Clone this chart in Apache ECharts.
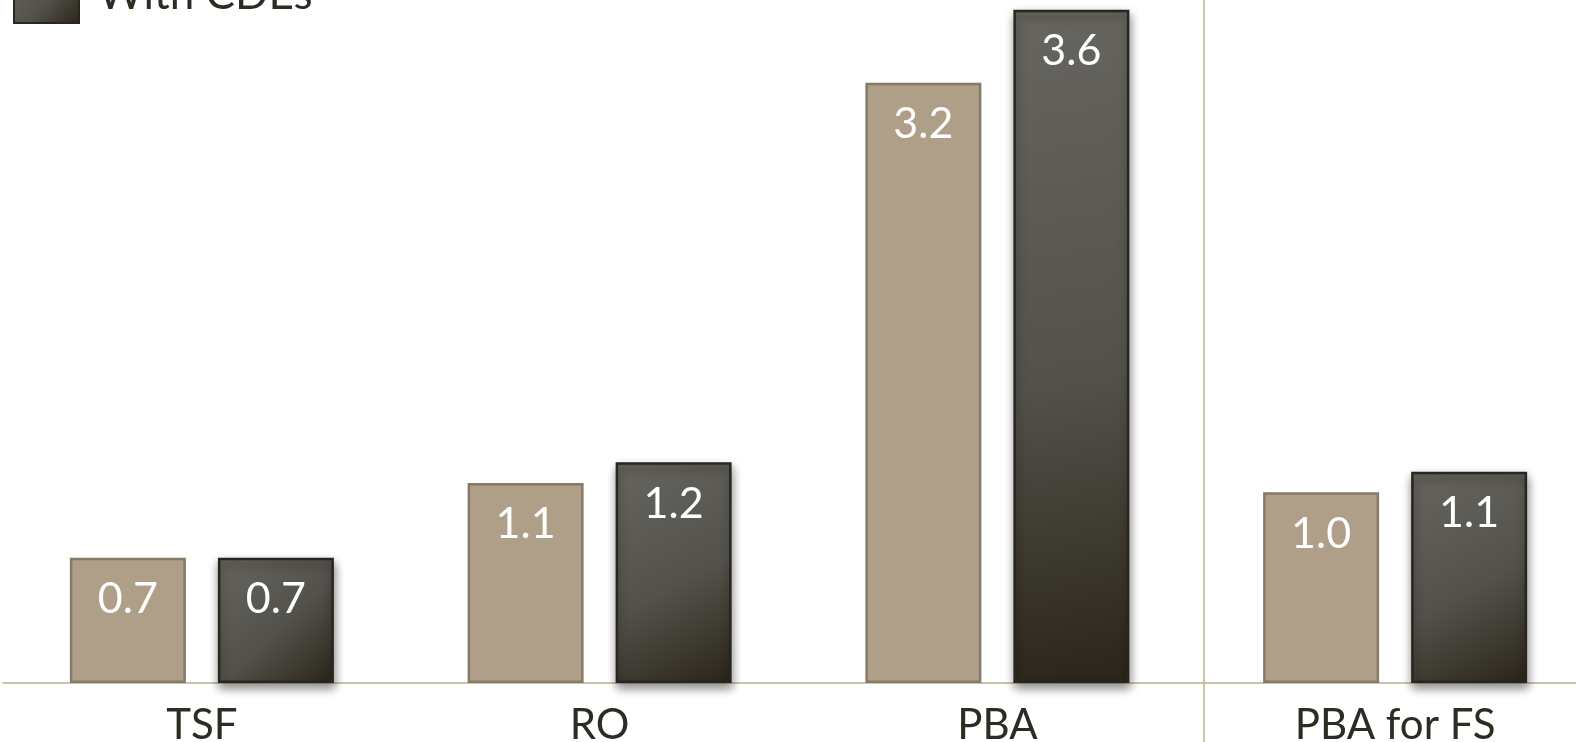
<!DOCTYPE html>
<html><head><meta charset="utf-8">
<script src="https://cdn.jsdelivr.net/npm/echarts@6/dist/echarts.min.js"></script>
<style>html,body{margin:0;padding:0;background:#fff}#c{width:1576px;height:742px}</style>
</head><body><div id="c"></div>
<script>
const categories = ['TSF', 'RO', 'PBA', 'PBA for FS'];
const withoutCDEs = [0.67, 1.07, 3.21, 1.02];
const withCDEs = [0.67, 1.18, 3.6, 1.13];
const seriesNames = ['Without CDEs', 'With CDEs'];

const chart = echarts.init(document.getElementById('c'));
const FONT = 'Lato, "Open Sans", sans-serif';
const darkGrad = new echarts.graphic.LinearGradient(0, 0, 1, 1, [
  {offset: 0, color: '#67655f'},
  {offset: 0.55, color: '#53514b'},
  {offset: 1, color: '#2a2519'}
]);
const labelCfg = {
  show: true, position: 'insideTop', distance: 20, color: '#ffffff',
  fontFamily: FONT, fontSize: 43,
  formatter: p => p.value.toFixed(1)
};
chart.setOption({
  animation: false,
  legend: {
    orient: 'vertical', left: 8, top: -111,
    itemWidth: 65, itemHeight: 56, itemGap: 14, icon: 'rect',
    textStyle: {fontFamily: FONT, fontSize: 44, color: '#2e2b22', padding: [0, 0, 0, 14]},
    data: seriesNames
  },
  grid: {left: 3, width: 1591, top: 0, height: 683, outerBoundsMode: 'none', containLabel: false},
  xAxis: {
    type: 'category', data: categories,
    axisLine: {lineStyle: {color: '#b8b290', width: 1.5}},
    axisTick: {show: false},
    axisLabel: {fontFamily: FONT, fontSize: 42, color: '#2e2b22', margin: 21}
  },
  yAxis: {type: 'value', min: 0, max: 3.652, show: false, splitLine: {show: false}},
  series: [
    {
      name: seriesNames[0], type: 'bar', data: withoutCDEs,
      barWidth: 116, barGap: '27.6%',
      itemStyle: {color: '#b09f88', borderColor: '#857a66', borderWidth: 2.5},
      label: labelCfg
    },
    {
      name: seriesNames[1], type: 'bar', data: withCDEs,
      barWidth: 116,
      itemStyle: {color: darkGrad, borderColor: '#29261d', borderWidth: 2.5,
        shadowBlur: 10, shadowColor: 'rgba(0,0,0,0.45)', shadowOffsetY: 5, shadowOffsetX: 1},
      label: labelCfg
    }
  ],
  graphic: [{
    type: 'line', shape: {x1: 1204, y1: 0, x2: 1204, y2: 742},
    style: {stroke: '#b8b290', lineWidth: 1.5}, z: 0
  }]
});
</script></body></html>
